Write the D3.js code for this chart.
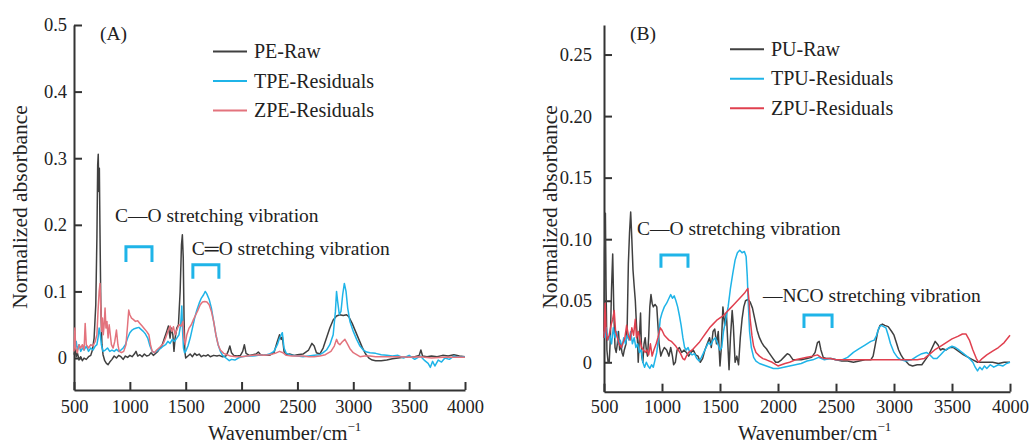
<!DOCTYPE html>
<html lang="en">
<head>
  <meta charset="UTF-8">
  <title>FTIR spectra</title>
  <script src="https://d3js.org/d3.v7.min.js"></script>
  <style>
    body { margin: 0; padding: 0; background: #fff; }
    svg text { font-family: "Liberation Serif", "Times New Roman", serif; fill: #222; }
  </style>
</head>
<body>
<svg id="chart" width="1030" height="445"></svg>
<script>
// ---- data (wavenumber cm-1, normalized absorbance) ----
const peRaw = [[500,0.005],[510,0.012],[520,0.002],[530,0.008],[545,-0.003],[560,0.002],[575,-0.004],[590,0.0],[610,-0.002],[630,0.002],[650,0.004],[665,0.012],[680,0.03],[695,0.08],[705,0.18],[712,0.29],[717,0.306],[722,0.25],[727,0.285],[732,0.2],[740,0.08],[750,0.02],[760,0.005],[775,-0.004],[790,-0.008],[805,-0.01],[820,-0.006],[840,-0.002],[860,0.003],[880,0.0],[900,0.004],[920,0.002],[940,-0.002],[960,0.003],[980,0.001],[1000,0.004],[1020,0.002],[1040,0.006],[1055,0.01],[1070,0.003],[1090,0.005],[1110,0.002],[1130,0.006],[1150,0.003],[1170,0.004],[1190,0.008],[1210,0.004],[1230,0.007],[1250,0.01],[1270,0.015],[1290,0.02],[1310,0.03],[1330,0.04],[1345,0.048],[1360,0.03],[1370,0.045],[1385,0.035],[1395,0.01],[1405,0.03],[1420,0.045],[1435,0.05],[1450,0.1],[1462,0.17],[1470,0.185],[1478,0.15],[1485,0.06],[1492,0.01],[1500,0.0],[1520,0.003],[1540,0.006],[1560,0.002],[1580,0.007],[1600,0.004],[1620,0.006],[1640,0.002],[1660,0.004],[1680,0.003],[1700,0.005],[1720,0.002],[1750,0.004],[1780,0.003],[1800,0.004],[1830,0.002],[1860,0.003],[1880,0.01],[1895,0.018],[1910,0.008],[1930,0.004],[1960,0.003],[1990,0.004],[2010,0.01],[2025,0.02],[2040,0.007],[2070,0.004],[2100,0.005],[2130,0.006],[2150,0.009],[2170,0.005],[2200,0.004],[2250,0.004],[2290,0.008],[2320,0.025],[2340,0.035],[2355,0.028],[2365,0.032],[2380,0.01],[2400,0.005],[2430,0.006],[2470,0.004],[2500,0.005],[2550,0.006],[2600,0.012],[2630,0.022],[2650,0.018],[2670,0.008],[2700,0.006],[2730,0.015],[2760,0.03],[2790,0.045],[2820,0.057],[2850,0.063],[2880,0.065],[2910,0.064],[2940,0.065],[2960,0.062],[2990,0.052],[3020,0.04],[3050,0.028],[3080,0.016],[3110,0.006],[3140,0.0],[3170,-0.003],[3200,-0.004],[3250,-0.004],[3300,-0.003],[3350,-0.001],[3400,0.0],[3450,0.001],[3500,0.001],[3550,0.002],[3590,0.004],[3605,0.012],[3620,0.003],[3660,0.002],[3700,0.003],[3750,0.002],[3800,0.004],[3850,0.003],[3900,0.005],[3950,0.003],[4000,0.002]];

const tpeRes = [[500,0.02],[510,0.015],[520,0.025],[530,0.012],[545,0.02],[560,0.01],[575,0.015],[590,0.012],[610,0.018],[630,0.01],[650,0.015],[670,0.012],[690,0.018],[705,0.02],[715,0.03],[725,0.045],[735,0.035],[745,0.02],[760,0.01],[780,0.012],[800,0.015],[820,0.01],[840,0.012],[860,0.01],[880,0.013],[900,0.01],[920,0.012],[940,0.015],[960,0.02],[980,0.03],[1000,0.038],[1020,0.042],[1040,0.044],[1060,0.045],[1080,0.046],[1100,0.043],[1120,0.04],[1140,0.036],[1160,0.03],[1180,0.018],[1200,0.01],[1220,0.008],[1240,0.01],[1260,0.013],[1280,0.015],[1300,0.018],[1320,0.02],[1340,0.025],[1360,0.022],[1380,0.028],[1400,0.025],[1420,0.03],[1440,0.035],[1455,0.05],[1465,0.078],[1472,0.04],[1480,0.015],[1490,0.008],[1500,0.01],[1520,0.018],[1540,0.03],[1560,0.045],[1580,0.06],[1600,0.072],[1620,0.082],[1640,0.09],[1660,0.095],[1675,0.1],[1690,0.096],[1710,0.088],[1730,0.075],[1750,0.055],[1770,0.035],[1790,0.02],[1810,0.01],[1830,0.004],[1860,0.0],[1890,-0.004],[1910,-0.002],[1940,-0.003],[1970,0.0],[2000,0.002],[2050,0.003],[2100,0.003],[2150,0.004],[2200,0.004],[2250,0.006],[2290,0.01],[2320,0.02],[2340,0.03],[2355,0.035],[2365,0.038],[2380,0.015],[2400,0.007],[2450,0.004],[2500,0.003],[2550,0.002],[2600,0.003],[2650,0.004],[2700,0.005],[2730,0.008],[2760,0.012],[2790,0.02],[2820,0.035],[2840,0.07],[2850,0.1],[2860,0.085],[2875,0.065],[2890,0.07],[2905,0.095],[2920,0.112],[2935,0.1],[2950,0.075],[2970,0.055],[3000,0.04],[3030,0.028],[3060,0.018],[3090,0.012],[3120,0.009],[3150,0.008],[3200,0.007],[3250,0.005],[3300,0.004],[3350,0.003],[3400,0.004],[3450,0.0],[3500,0.004],[3550,-0.002],[3600,0.003],[3640,-0.004],[3670,-0.008],[3690,-0.014],[3710,-0.005],[3730,-0.012],[3760,-0.003],[3790,-0.006],[3820,0.0],[3860,-0.002],[3900,0.003],[3950,0.001],[4000,0.002]];

const zpeRes = [[500,0.01],[508,0.045],[515,0.015],[530,0.008],[545,0.02],[560,0.015],[575,0.02],[590,0.012],[600,0.052],[610,0.02],[630,0.015],[650,0.02],[670,0.018],[690,0.025],[705,0.035],[715,0.07],[725,0.1],[733,0.112],[740,0.075],[748,0.04],[755,0.06],[762,0.035],[770,0.05],[778,0.075],[786,0.045],[795,0.055],[805,0.03],[815,0.05],[825,0.035],[835,0.02],[850,0.015],[865,0.025],[880,0.042],[893,0.02],[905,0.01],[925,0.008],[945,0.01],[965,0.02],[980,0.05],[990,0.072],[1000,0.065],[1015,0.06],[1030,0.058],[1050,0.055],[1070,0.056],[1090,0.052],[1110,0.048],[1130,0.044],[1150,0.04],[1170,0.035],[1185,0.02],[1200,0.01],[1220,0.008],[1240,0.012],[1260,0.015],[1280,0.018],[1300,0.022],[1320,0.03],[1340,0.04],[1360,0.048],[1375,0.04],[1390,0.047],[1405,0.035],[1420,0.042],[1440,0.05],[1460,0.048],[1475,0.055],[1485,0.03],[1495,0.02],[1510,0.035],[1530,0.045],[1550,0.05],[1570,0.058],[1590,0.065],[1610,0.072],[1630,0.08],[1650,0.084],[1670,0.085],[1690,0.084],[1710,0.08],[1730,0.07],[1750,0.055],[1770,0.035],[1790,0.02],[1810,0.012],[1840,0.007],[1870,0.005],[1900,0.003],[1950,0.002],[2000,0.002],[2050,0.003],[2100,0.004],[2150,0.005],[2200,0.004],[2250,0.005],[2300,0.007],[2340,0.01],[2370,0.008],[2400,0.004],[2450,0.003],[2500,0.003],[2550,0.003],[2600,0.002],[2650,0.002],[2700,0.003],[2750,0.005],[2800,0.01],[2830,0.018],[2850,0.028],[2865,0.022],[2880,0.02],[2900,0.024],[2925,0.028],[2945,0.022],[2970,0.014],[3000,0.008],[3030,0.005],[3060,0.002],[3100,0.003],[3150,0.003],[3200,0.002],[3300,0.002],[3400,0.002],[3500,0.001],[3600,0.002],[3700,0.0],[3800,0.001],[3900,0.001],[4000,0.001]];

const puRaw = [[500,0.02],[505,0.09],[512,0.121],[518,0.06],[525,0.01],[535,0.0],[545,0.0],[555,0.02],[565,0.06],[575,0.088],[585,0.04],[595,0.012],[605,0.008],[615,0.015],[625,0.025],[635,0.01],[645,0.015],[655,0.008],[665,0.005],[675,0.01],[690,0.015],[700,0.03],[710,0.08],[720,0.105],[730,0.122],[740,0.1],[750,0.075],[760,0.062],[770,0.05],[780,0.03],[790,0.015],[795,0.0],[805,0.02],[815,0.04],[825,0.005],[835,0.0],[845,0.015],[855,0.02],[865,0.01],[875,0.005],[885,0.02],[895,0.045],[905,0.055],[915,0.048],[925,0.045],[940,0.047],[955,0.045],[965,0.03],[975,0.015],[990,0.005],[1000,0.008],[1020,0.012],[1040,0.01],[1060,0.005],[1075,0.012],[1090,0.005],[1100,-0.002],[1115,0.0],[1130,0.01],[1150,0.012],[1170,0.008],[1190,0.01],[1210,0.008],[1230,0.005],[1250,0.008],[1270,0.01],[1290,0.006],[1310,0.005],[1330,0.0],[1350,0.003],[1370,0.01],[1390,0.015],[1410,0.02],[1425,0.012],[1440,0.025],[1455,0.027],[1470,0.015],[1485,0.025],[1500,-0.003],[1510,0.01],[1525,0.045],[1540,0.03],[1555,0.04],[1565,0.02],[1578,-0.006],[1590,0.02],[1605,0.042],[1615,0.03],[1630,0.0],[1645,0.005],[1660,-0.002],[1675,0.02],[1690,0.035],[1705,0.045],[1720,0.05],[1740,0.051],[1760,0.049],[1780,0.044],[1800,0.035],[1820,0.026],[1840,0.02],[1860,0.016],[1880,0.013],[1900,0.011],[1920,0.008],[1950,0.004],[1980,0.0],[2000,0.0],[2030,0.002],[2060,0.005],[2080,0.007],[2100,0.006],[2130,0.002],[2160,0.002],[2200,0.002],[2250,0.003],[2290,0.004],[2320,0.008],[2340,0.016],[2355,0.017],[2370,0.01],[2390,0.004],[2420,0.003],[2460,0.003],[2500,0.002],[2550,0.001],[2600,0.001],[2650,0.0],[2700,0.001],[2750,0.002],[2800,0.002],[2820,0.005],[2840,0.015],[2860,0.025],[2880,0.03],[2900,0.031],[2920,0.03],[2950,0.029],[2980,0.025],[3000,0.022],[3020,0.016],[3040,0.01],[3060,0.006],[3080,0.003],[3100,0.001],[3130,-0.002],[3160,-0.003],[3200,-0.002],[3240,-0.002],[3270,0.002],[3300,0.006],[3330,0.012],[3355,0.017],[3380,0.014],[3400,0.01],[3420,0.011],[3450,0.01],[3480,0.012],[3510,0.012],[3540,0.01],[3570,0.008],[3600,0.006],[3640,0.004],[3680,0.002],[3720,0.0],[3760,0.0],[3800,0.0],[3850,0.0],[3900,-0.001],[3950,0.0],[4000,0.0]];

const tpuRes = [[500,0.025],[510,0.02],[520,0.028],[535,0.018],[550,0.022],[565,0.015],[580,0.028],[595,0.02],[610,0.025],[625,0.015],[640,0.018],[655,0.012],[670,0.02],[685,0.015],[700,0.022],[715,0.018],[730,0.025],[745,0.015],[760,0.02],[775,0.012],[790,0.015],[805,0.008],[820,0.01],[835,0.0],[850,-0.004],[865,0.0],[880,-0.003],[895,-0.005],[910,-0.002],[925,-0.004],[940,0.002],[955,0.008],[970,0.02],[985,0.035],[1000,0.04],[1020,0.045],[1040,0.048],[1060,0.052],[1075,0.055],[1090,0.052],[1105,0.054],[1120,0.05],[1135,0.045],[1150,0.038],[1165,0.03],[1180,0.02],[1195,0.012],[1210,0.01],[1225,0.012],[1240,0.008],[1260,0.006],[1280,0.007],[1300,0.003],[1320,0.001],[1340,0.004],[1360,0.008],[1380,0.012],[1400,0.016],[1420,0.014],[1440,0.018],[1460,0.02],[1480,0.015],[1500,0.01],[1515,0.012],[1530,0.025],[1550,0.035],[1570,0.045],[1590,0.06],[1610,0.072],[1630,0.083],[1650,0.089],[1670,0.091],[1690,0.089],[1710,0.09],[1725,0.086],[1735,0.07],[1745,0.045],[1755,0.025],[1770,0.012],[1790,0.004],[1810,0.001],[1840,-0.001],[1870,-0.002],[1900,-0.003],[1930,-0.004],[1960,-0.005],[2000,-0.005],[2050,-0.004],[2100,-0.003],[2150,-0.002],[2200,-0.001],[2250,0.001],[2300,0.002],[2350,0.004],[2400,0.002],[2450,0.003],[2500,0.002],[2550,0.002],[2600,0.004],[2650,0.008],[2700,0.011],[2750,0.014],[2800,0.017],[2830,0.018],[2850,0.022],[2870,0.028],[2890,0.03],[2910,0.029],[2930,0.028],[2950,0.022],[2970,0.015],[3000,0.008],[3030,0.004],[3060,0.002],[3100,0.001],[3150,0.002],[3200,0.005],[3240,0.007],[3280,0.008],[3310,0.006],[3340,0.003],[3370,0.003],[3400,0.006],[3430,0.009],[3460,0.011],[3500,0.013],[3530,0.012],[3560,0.01],[3600,0.007],[3640,0.004],[3680,0.0],[3700,-0.004],[3720,-0.007],[3740,-0.004],[3760,-0.006],[3780,-0.003],[3800,-0.005],[3830,-0.002],[3860,-0.004],[3900,-0.002],[3940,-0.003],[3970,-0.001],[4000,0.0]];

const zpuRes = [[500,0.02],[505,0.035],[510,0.048],[518,0.025],[530,0.018],[545,0.022],[560,0.03],[575,0.035],[588,0.042],[600,0.025],[615,0.02],[630,0.015],[650,0.012],[665,0.016],[680,0.02],[695,0.03],[710,0.022],[725,0.018],[740,0.028],[755,0.022],[770,0.035],[780,0.02],[795,0.025],[810,0.018],[825,0.012],[840,0.01],[855,0.008],[870,0.01],[885,0.006],[900,0.015],[915,0.005],[930,0.01],[950,0.015],[965,0.02],[985,0.028],[1000,0.026],[1020,0.022],[1040,0.02],[1060,0.018],[1080,0.017],[1100,0.015],[1120,0.013],[1140,0.01],[1160,0.007],[1180,0.003],[1195,0.002],[1210,0.005],[1230,0.008],[1260,0.01],[1290,0.013],[1320,0.016],[1350,0.02],[1380,0.024],[1410,0.028],[1440,0.031],[1470,0.034],[1500,0.036],[1530,0.038],[1560,0.041],[1590,0.044],[1620,0.047],[1650,0.05],[1680,0.053],[1710,0.056],[1740,0.06],[1750,0.05],[1760,0.035],[1775,0.022],[1790,0.013],[1810,0.008],[1840,0.005],[1870,0.003],[1900,0.002],[1950,0.0],[2000,-0.003],[2030,-0.002],[2060,-0.001],[2100,0.0],[2150,0.002],[2200,0.003],[2250,0.004],[2300,0.005],[2340,0.006],[2370,0.004],[2400,0.003],[2450,0.003],[2500,0.002],[2600,0.002],[2700,0.002],[2800,0.002],[2900,0.002],[3000,0.002],[3100,0.002],[3200,0.002],[3260,0.003],[3300,0.006],[3350,0.01],[3400,0.013],[3450,0.016],[3500,0.019],[3550,0.021],[3590,0.023],[3620,0.023],[3650,0.018],[3680,0.01],[3710,0.003],[3730,0.0],[3760,0.003],[3800,0.006],[3850,0.009],[3900,0.012],[3950,0.016],[4000,0.022]];

const xTicks = [500, 1000, 1500, 2000, 2500, 3000, 3500, 4000];
const yTicksA = [0, 0.1, 0.2, 0.3, 0.4, 0.5];
const yTicksB = [0, 0.05, 0.10, 0.15, 0.20, 0.25];
const namesA = ["PE-Raw", "TPE-Residuals", "ZPE-Residuals"];
const namesB = ["PU-Raw", "TPU-Residuals", "ZPU-Residuals"];
// bracket ranges [from, to] in cm-1 and label text
const bracketsA = [[965, 1198, 0.167, 0.144], [1564, 1797, 0.140, 0.119]];
const bracketsB = [[991, 1224, 0.0872, 0.0767], [2224, 2466, 0.0385, 0.0279]];
const notesA = [["C\u2014O stretching vibration", 867, 0.204], ["C\u2550O stretching vibration", 1555, 0.155]];
const notesB = [["C\u2014O stretching vibration", 784, 0.1035], ["\u2014NCO stretching vibration", 1871, 0.0493]];

const svg = d3.select("#chart");
const dark = "#404040", cyan = "#1fb4e8";
const serif = "'Liberation Serif', 'Times New Roman', serif";

function drawPanel(cfg) {
  const x = d3.scaleLinear().domain([500, 4000]).range([cfg.left, cfg.right]);
  const y = d3.scaleLinear().domain(cfg.yDomain).range([cfg.bottom, 25]);
  const g = svg.append("g");

  // y axis
  const ya = g.append("g")
    .attr("transform", `translate(${cfg.left},0)`)
    .call(d3.axisLeft(y).tickValues(cfg.yTicks).tickSize(-8).tickSizeOuter(0)
      .tickPadding(cfg.yPad).tickFormat(d => d === 0 ? "0" : d3.format(cfg.fmt)(d)));
  // x axis
  const xa = g.append("g")
    .attr("transform", `translate(0,${cfg.bottom})`)
    .call(d3.axisBottom(x).tickValues(xTicks).tickSize(-8).tickSizeOuter(0)
      .tickPadding(cfg.xPad).tickFormat(d3.format("d")));
  [ya, xa].forEach(a => {
    a.attr("font-family", serif).attr("font-size", 18.5);
    a.select(".domain").attr("stroke", "#333").attr("stroke-width", 2);
    a.selectAll(".tick line").attr("stroke", "#333").attr("stroke-width", 2);
    a.selectAll(".tick text").style("font-family", serif).style("font-size", "18.5px").attr("fill", "#222");
  });

  // spectra
  const line = d3.line().x(d => x(d[0])).y(d => y(d[1]));
  cfg.series.forEach((s, i) => {
    g.append("path").datum(s).attr("d", line)
      .attr("fill", "none").attr("stroke", cfg.colors[i]).attr("stroke-width", 1.5)
      .attr("stroke-linejoin", "round");
  });

  // brackets
  cfg.brackets.forEach(b => {
    g.append("path")
      .attr("d", `M${x(b[0])},${y(b[3])}V${y(b[2])}H${x(b[1])}V${y(b[3])}`)
      .attr("fill", "none").attr("stroke", cyan).attr("stroke-width", 3);
  });
  cfg.notes.forEach(n => {
    g.append("text").attr("x", x(n[1])).attr("y", y(n[2]))
      .style("font-size", "19.5px").text(n[0]);
  });

  // legend
  cfg.names.forEach((name, i) => {
    const ly = cfg.legendY + i * 29.5;
    g.append("line").attr("x1", cfg.legendX).attr("x2", cfg.legendX + 34)
      .attr("y1", ly).attr("y2", ly).attr("stroke", cfg.colors[i]).attr("stroke-width", 2);
    g.append("text").attr("x", cfg.legendX + 41).attr("y", ly + 6.5)
      .style("font-size", "20px").text(name);
  });

  // panel label and axis titles
  g.append("text").attr("x", cfg.left + 26).attr("y", 40).style("font-size", "19.5px").text(cfg.label);
  g.append("text")
    .attr("transform", `translate(${cfg.left - 47},${207}) rotate(-90)`)
    .attr("text-anchor", "middle").style("font-size", "21.5px").text("Normalized absorbance");
  const xt = g.append("text").attr("x", cfg.left + 134).attr("y", 440).style("font-size", "20.5px");
  xt.append("tspan").text("Wavenumber/cm");
  xt.append("tspan").attr("dy", -9).style("font-size", "13px").text("\u22121");
}

drawPanel({
  left: 74, right: 465, bottom: 390, yDomain: [-0.048, 0.5], yTicks: yTicksA, fmt: ".1f",
  yPad: 7, xPad: 10, series: [peRaw, tpeRes, zpeRes], colors: [dark, cyan, "#e3737d"],
  brackets: bracketsA, notes: notesA, names: namesA, legendX: 213, legendY: 51.5, label: "(A)"
});
drawPanel({
  left: 604, right: 1010, bottom: 391.7, yDomain: [-0.0239, 0.274], yTicks: yTicksB, fmt: ".2f",
  yPad: 12, xPad: 8.5, series: [puRaw, tpuRes, zpuRes], colors: [dark, cyan, "#e0404f"],
  brackets: bracketsB, notes: notesB, names: namesB, legendX: 730, legendY: 49.3, label: "(B)"
});
</script>
</body>
</html>
